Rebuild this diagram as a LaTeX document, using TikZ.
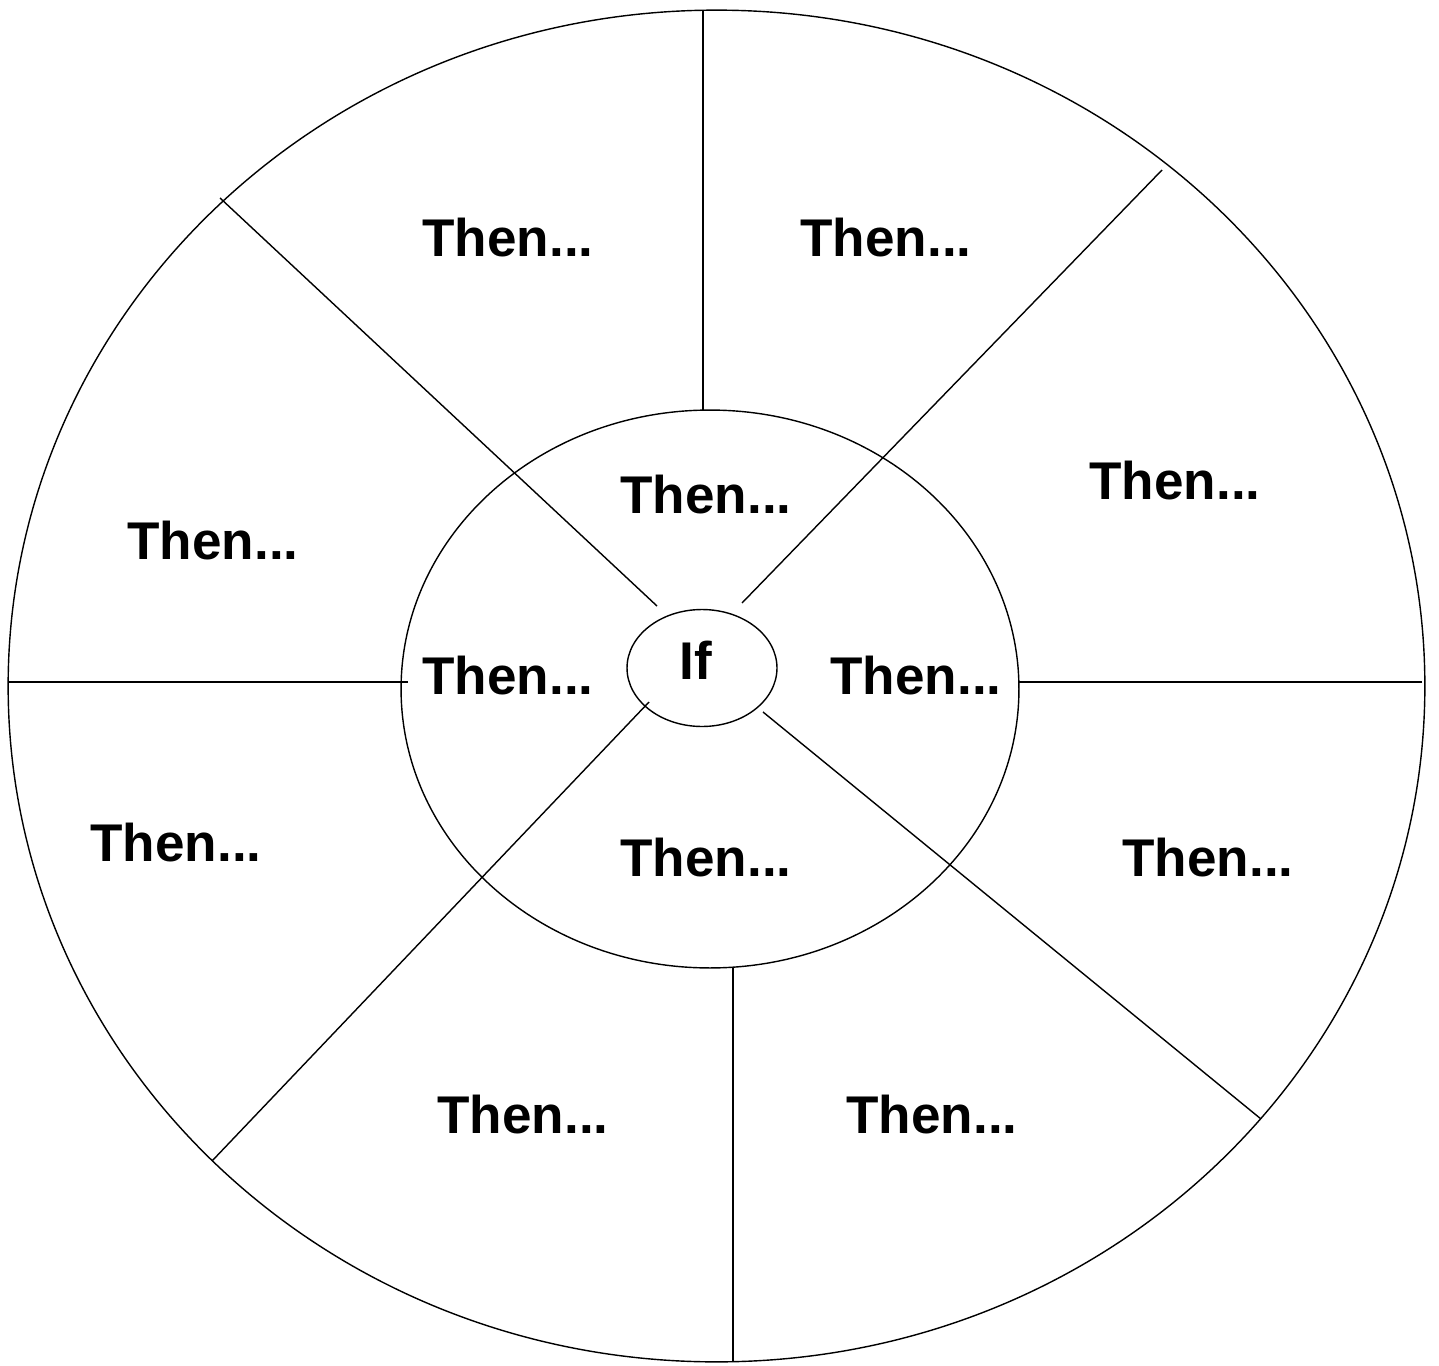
\documentclass[tikz,border=0pt]{standalone}
\usepackage{fontspec}
\setmainfont{Liberation Sans}
\usetikzlibrary{shapes.geometric}

\tikzset{
  ring/.style={draw, ellipse, line width=0.8pt, inner sep=0pt},
  word/.style={font=\fontsize{30.2}{31}\selectfont\bfseries, inner sep=0pt},
  spoke/.style={line width=0.8pt}
}

\begin{document}
\begin{tikzpicture}[x=0.02cm, y=-0.02cm]
      \useasboundingbox (0, 0) rectangle (1439, 1365);

      \begin{scope}[name prefix = ring-]
         \node[ring, minimum width=28.34cm, minimum height=27.04cm] (outer) at (716.5, 686) {};
         \node[ring, minimum width=12.36cm, minimum height=11.16cm] (inner) at (710, 689) {};
         \node[ring, minimum width=3cm, minimum height=2.34cm] (if) at (702, 668) {};
      \end{scope}

      \node[word] (if) at (696, 660) {If};

      \begin{scope}[name prefix = inner-]
         \node[word] (n) at (706, 495) {Then...};
         \node[word] (w) at (508, 676) {Then...};
         \node[word] (e) at (916, 676) {Then...};
         \node[word] (s) at (706, 858) {Then...};
      \end{scope}

      \begin{scope}[name prefix = outer-]
         \node[word] (1) at (508, 238) {Then...};
         \node[word] (2) at (886, 238) {Then...};
         \node[word] (3) at (1175, 481) {Then...};
         \node[word] (4) at (1208, 858) {Then...};
         \node[word] (5) at (932, 1115) {Then...};
         \node[word] (6) at (523, 1115) {Then...};
         \node[word] (7) at (176, 843) {Then...};
         \node[word] (8) at (213, 541) {Then...};
      \end{scope}

      \begin{scope}[name prefix = end-]
         \coordinate (n-out) at (703, 10);
         \coordinate (n-in) at (703, 410);
         \coordinate (ne-out) at (1162, 170);
         \coordinate (ne-in) at (742, 603);
         \coordinate (e-out) at (1422, 682);
         \coordinate (e-in) at (1019, 682);
         \coordinate (se-out) at (1261, 1119);
         \coordinate (se-in) at (763, 712);
         \coordinate (s-out) at (733, 1362);
         \coordinate (s-in) at (733, 968);
         \coordinate (sw-out) at (212, 1161);
         \coordinate (sw-in) at (649, 702);
         \coordinate (w-out) at (8, 682);
         \coordinate (w-in) at (408, 682);
         \coordinate (nw-out) at (220, 198);
         \coordinate (nw-in) at (657, 606);
      \end{scope}

      \begin{scope}
         \draw[spoke] (end-n-out) -- (end-n-in);
         \draw[spoke] (end-ne-out) -- (end-ne-in);
         \draw[spoke] (end-e-out) -- (end-e-in);
         \draw[spoke] (end-se-out) -- (end-se-in);
         \draw[spoke] (end-s-out) -- (end-s-in);
         \draw[spoke] (end-sw-out) -- (end-sw-in);
         \draw[spoke] (end-w-out) -- (end-w-in);
         \draw[spoke] (end-nw-out) -- (end-nw-in);
      \end{scope}
   \end{tikzpicture}
\end{document}
